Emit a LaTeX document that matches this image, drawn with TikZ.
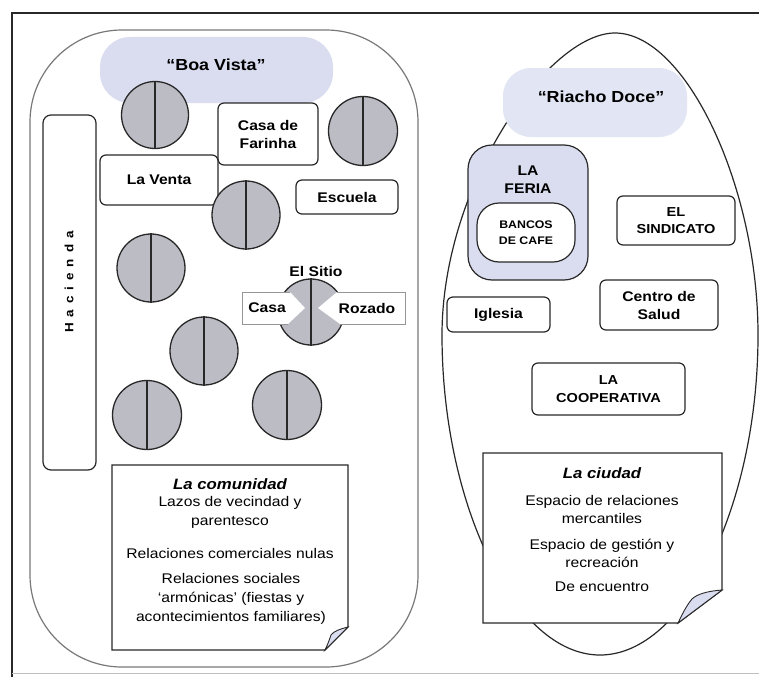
\documentclass[tikz,border=0pt]{standalone}
\usepackage{fontspec}
\setmainfont{Liberation Sans}[FakeStretch=1.12]
\definecolor{ink}{RGB}{40,40,40}
\definecolor{lav}{RGB}{218,221,240}
\definecolor{lavlight}{RGB}{226,229,243}
\definecolor{hut}{RGB}{188,188,197}
\definecolor{rim}{RGB}{120,120,120}
\definecolor{barrim}{RGB}{150,150,150}
\newcommand\fsz[2]{\fontsize{#1}{#2}\selectfont}
\begin{document}
\begin{tikzpicture}[x=1pt,y=-1pt,
  box/.style={draw=ink, line width=1.2pt, rounded corners=6pt, fill=white, align=center,
              font=\fsz{14}{18}\bfseries, inner sep=0pt},
  hutc/.style={circle, draw=ink, line width=1.3pt, fill=hut, inner sep=0pt, minimum size=#1},
  hutline/.style={draw=ink, line width=1.1pt},
  blob/.style={fill=lav, rounded corners=30pt, inner sep=0pt, font=\fsz{16}{18}\bfseries},
  notebox/.style={draw=ink, line width=1.3pt, fill=white},
  flap/.style={draw=ink, line width=0.9pt, fill=lav},
  notetxt/.style={align=center, inner sep=0pt, font=\fsz{14}{19}},
  notetitle/.style={inner sep=0pt, font=\fsz{15}{18}\bfseries\itshape},
  lbl/.style={inner sep=0pt, font=\fsz{14}{18}\bfseries}
]
\useasboundingbox (0,0) rectangle (759,677);
\fill[white] (0,0) rectangle (759,677);
% frame
\draw[ink, line width=1.2pt] (759,13) -- (12,13) -- (12,677);
\draw[black!25, line width=0.8pt] (12,673) -- (759,673);

% ---------------- Left: Boa Vista ----------------
\draw[rim, line width=1.2pt, rounded corners=92pt] (30,30) rectangle (418,667);
\node[blob, minimum width=233pt, minimum height=66pt] (bvblob) at (216.5,70) {};
\node[lbl, font=\fsz{16}{18}\bfseries] (bv) at (216,65) {``Boa Vista''};

\node[box, rounded corners=8pt, minimum width=53pt, minimum height=355pt] (hac) at (69.5,292.5) {};
\node[rotate=90, inner sep=0pt, font=\fsz{12}{14}\bfseries] (hactxt) at (69,282)
  {H\hspace{6pt}a\hspace{6pt}c\hspace{6pt}i\hspace{6pt}e\hspace{6pt}n\hspace{6pt}d\hspace{6pt}a};

\node[box, minimum width=100pt, minimum height=62pt] (farinha) at (268,134) {Casa de\\Farinha};
\node[box, minimum width=118pt, minimum height=50pt] (venta) at (159,180) {La Venta};
\node[box, minimum width=102pt, minimum height=34pt] (escuela) at (347,197) {Escuela};

% huts
\foreach \n/\x/\y/\d in {h1/155/115/67, h2/363/131/69, h3/246/215/68, h4/151/268/68,
                         h5/204/351/68, h6/147/415/69, h7/287/405/69}{
  \node[hutc=\d pt] (\n) at (\x,\y) {};
  \draw[hutline] (\n.north) -- (\n.south);
}

% El Sitio
\node[hutc=66pt] (sitio) at (311,312) {};
\draw[hutline] (sitio.north) -- (sitio.south);
\fill[white] (242,292) -- (290,292) -- (305,308) -- (288,324) -- (242,324) -- cycle;
\fill[white] (405,292) -- (337,292) -- (318,308) -- (340,324) -- (405,324) -- cycle;
\draw[barrim, line width=1pt] (290,292) -- (242,292) -- (242,324) -- (288,324);
\draw[barrim, line width=1pt] (337,292) -- (405,292) -- (405,324) -- (340,324);
\node[lbl] (sitiolbl) at (316,271) {El Sitio};
\node[lbl] (casa) at (267,308) {Casa};
\node[lbl] (rozado) at (367,308) {Rozado};

% La comunidad note
\draw[notebox] (112,465) -- (348,465) -- (348,627) -- (325,650) -- (112,650) -- cycle;
\draw[flap] (348,627) .. controls (340,629) and (334,631) .. (331,635)
            .. controls (329,641) and (327,646) .. (325,650) -- cycle;
\node[notetitle] (comt) at (230,484) {La comunidad};
\node[notetxt] (com1) at (230,512.5) {Lazos de vecindad y\\parentesco};
\node[notetxt] (com2) at (230,553) {Relaciones comerciales nulas};
\node[notetxt] (com3) at (231,599) {Relaciones sociales\\`armónicas' (fiestas y\\acontecimientos familiares)};

% ---------------- Right: Riacho Doce ----------------
\draw[ink, line width=1.2pt] (758,335) .. controls (758,185) and (685,33) .. (615,33)
   .. controls (548,33) and (442,185) .. (442,335)
   .. controls (442,505) and (515,655) .. (600,655)
   .. controls (685,655) and (758,505) .. (758,335) -- cycle;
\node[blob, fill=lavlight, minimum width=184pt, minimum height=69pt, rounded corners=28pt] (rdblob) at (595,102.5) {};
\node[lbl, font=\fsz{16}{18}\bfseries] (rd) at (601,97) {``Riacho Doce''};

\node[box, fill=lav, rounded corners=24pt, minimum width=120pt, minimum height=135pt] (feria) at (528,212.5) {};
\node[lbl, align=center] (ferialbl) at (528,180) {LA\\FERIA};
\node[box, rounded corners=22pt, minimum width=98pt, minimum height=59pt, font=\fsz{11}{16}\bfseries] (bancos) at (526,232.5) {BANCOS\\DE CAFE};
\node[box, font=\fsz{13}{17}\bfseries, minimum width=118pt, minimum height=49pt] (sind) at (676,220.5) {EL\\SINDICATO};
\node[box, minimum width=103pt, minimum height=35pt] (iglesia) at (498.5,314.5) {Iglesia};
\node[box, minimum width=118pt, minimum height=50pt] (salud) at (659,305) {Centro de\\Salud};
\node[box, font=\fsz{13}{18}\bfseries, minimum width=153pt, minimum height=52pt] (coop) at (608.5,389) {LA\\COOPERATIVA};

% La ciudad note
\draw[notebox] (483,453) -- (722,453) -- (722,590) -- (678,623) -- (483,623) -- cycle;
\draw[flap] (722,590) .. controls (708,591) and (697,594) .. (692,599)
            .. controls (686,606) and (682,615) .. (678,623) -- cycle;
\node[notetitle] (cit) at (602,473) {La ciudad};
\node[notetxt, font=\fsz{14}{18}] (ci1) at (602,509) {Espacio de relaciones\\mercantiles};
\node[notetxt, font=\fsz{14}{18}] (ci2) at (602,553.5) {Espacio de gestión y\\recreación};
\node[notetxt] (ci3) at (602,587) {De encuentro};
\end{tikzpicture}
\end{document}
